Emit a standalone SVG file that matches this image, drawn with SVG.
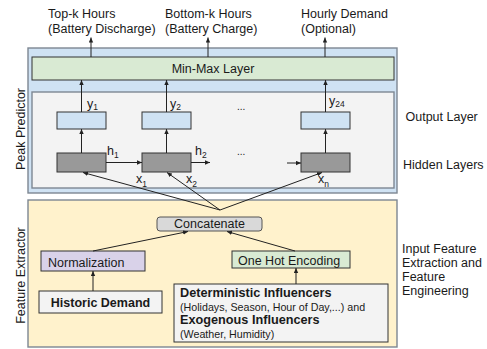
<svg xmlns="http://www.w3.org/2000/svg" width="487" height="349" viewBox="0 0 487 349">
<defs>
<style>
text{font-family:"Liberation Sans",Arial,sans-serif;fill:#1a1a1a;font-size:12.5px}
.b{font-weight:bold}
.s{font-size:10.7px}
.sub{font-size:8.5px}
.outer{stroke:#7d8792;stroke-width:1.4}
.box{stroke:#333;stroke-width:1}
.ln{stroke:#222;stroke-width:1;fill:none}
.arr{stroke:#222;stroke-width:1;fill:none;marker-end:url(#ah)}
</style>
<marker id="ah" markerUnits="userSpaceOnUse" markerWidth="6" markerHeight="5" refX="5" refY="2.2" orient="auto">
<path d="M0,0 L5,2.2 L0,4.4 z" fill="#222"/>
</marker>
</defs>
<rect width="487" height="349" fill="#fff"/>

<g id="outputs-labels">
<text x="48" y="18">Top-k Hours</text>
<text x="48" y="32.5">(Battery Discharge)</text>
<text x="165" y="18">Bottom-k Hours</text>
<text x="165" y="32.5">(Battery Charge)</text>
<text x="301" y="18">Hourly Demand</text>
<text x="301" y="32.5">(Optional)</text>
</g>

<g id="peak-predictor">
<rect x="28" y="48" width="369" height="145" fill="#cfe2f3" class="outer"/>
<text transform="translate(24.5,129) rotate(-90)" text-anchor="middle">Peak Predictor</text>
<rect x="32" y="92" width="362" height="96" fill="#f3f3f3" class="outer"/>
</g>

<g id="minmax">
<rect x="32" y="57" width="362" height="23" fill="#d9ead3" class="box"/>
<text x="213" y="73" text-anchor="middle">Min-Max Layer</text>
</g>

<g id="output1"><rect x="57" y="112" width="49" height="17" fill="#cfe2f3" class="box"/></g>
<g id="output2"><rect x="142" y="112" width="49" height="17" fill="#cfe2f3" class="box"/></g>
<g id="output24"><rect x="301" y="112" width="49" height="17" fill="#cfe2f3" class="box"/></g>
<g id="hidden1"><rect x="57" y="153" width="49" height="19" fill="#999" class="box"/></g>
<g id="hidden2"><rect x="142" y="153" width="49" height="19" fill="#999" class="box"/></g>
<g id="hiddenN"><rect x="301" y="153" width="49" height="19" fill="#999" class="box"/></g>

<g id="feature-extractor">
<rect x="28" y="200" width="369" height="147" fill="#fff2cc" class="outer"/>
<text transform="translate(24.5,275.5) rotate(-90)" text-anchor="middle">Feature Extractor</text>
</g>

<g id="concatenate">
<rect x="157" y="217" width="105" height="14" rx="3" fill="#d9d9d9" stroke="#555" stroke-width="1"/>
<text x="209.5" y="228" text-anchor="middle">Concatenate</text>
</g>
<g id="normalization">
<rect x="41" y="251" width="104" height="20" fill="#d9d2e9" class="box"/>
<text x="48" y="266.5">Normalization</text>
</g>
<g id="onehot">
<rect x="232" y="251" width="118" height="17" fill="#d9ead3" class="box"/>
<text x="238" y="264.5">One Hot Encoding</text>
</g>
<g id="historic">
<rect x="39" y="291" width="123" height="22" fill="#f3f3f3" class="box"/>
<text x="100.5" y="307" text-anchor="middle" class="b">Historic Demand</text>
</g>
<g id="influencers">
<rect x="174" y="284" width="214" height="58" fill="#f3f3f3" class="box"/>
<text x="180" y="297" class="b" style="font-size:12.7px">Deterministic Influencers</text>
<text x="180" y="310.5" class="s">(Holidays, Season, Hour of Day,...) and</text>
<text x="180" y="324" class="b" style="font-size:12.7px">Exogenous Influencers</text>
<text x="180" y="338" class="s">(Weather, Humidity)</text>
</g>

<g id="side-labels">
<text x="405.5" y="121">Output Layer</text>
<text x="403" y="169">Hidden Layers</text>
<text x="402" y="253">Input Feature</text>
<text x="402" y="267">Extraction and</text>
<text x="402" y="281">Feature</text>
<text x="402" y="295">Engineering</text>
</g>

<g id="var-labels">
<text x="87" y="108">y<tspan class="sub" dy="2">1</tspan></text>
<text x="170" y="108">y<tspan class="sub" dy="2">2</tspan></text>
<text x="329" y="105">y<tspan class="sub" dy="2">24</tspan></text>
<text x="107" y="155">h<tspan class="sub" dy="3">1</tspan></text>
<text x="195" y="155">h<tspan class="sub" dy="3">2</tspan></text>
<text x="136" y="183">x<tspan class="sub" dy="4">1</tspan></text>
<text x="186" y="183">x<tspan class="sub" dy="4">2</tspan></text>
<text x="318" y="183">x<tspan class="sub" dy="4">n</tspan></text>
<text x="237" y="110" style="font-size:10px">...</text>
<text x="237" y="155" style="font-size:10px">...</text>
</g>

<g id="connectors">
<line x1="91" y1="57" x2="91" y2="37.5" class="arr"/>
<line x1="208" y1="57" x2="208" y2="37.5" class="arr"/>
<line x1="325" y1="57" x2="325" y2="37.5" class="arr"/>
<line x1="81.5" y1="112" x2="81.5" y2="80" class="arr"/>
<line x1="166.5" y1="112" x2="166.5" y2="80" class="arr"/>
<line x1="325.5" y1="112" x2="325.5" y2="80" class="arr"/>
<line x1="81.5" y1="153" x2="81.5" y2="129" class="arr"/>
<line x1="166.5" y1="153" x2="166.5" y2="129" class="arr"/>
<line x1="325.5" y1="153" x2="325.5" y2="129" class="arr"/>
<line x1="106" y1="162.5" x2="142" y2="162.5" class="arr"/>
<line x1="191" y1="162.5" x2="210" y2="162.5" class="arr"/>
<line x1="287" y1="163" x2="301" y2="163" class="arr"/>
<line x1="220" y1="210" x2="83" y2="172.5" class="arr"/>
<line x1="220" y1="210" x2="167" y2="172.5" class="arr"/>
<line x1="220" y1="210" x2="322" y2="172.5" class="arr"/>
<line x1="93" y1="251" x2="188" y2="231.5" class="arr"/>
<line x1="295" y1="251" x2="227" y2="231.5" class="arr"/>
<line x1="93" y1="291" x2="93" y2="271" class="arr"/>
<line x1="296" y1="284" x2="296" y2="268" class="arr"/>
</g>
</svg>
